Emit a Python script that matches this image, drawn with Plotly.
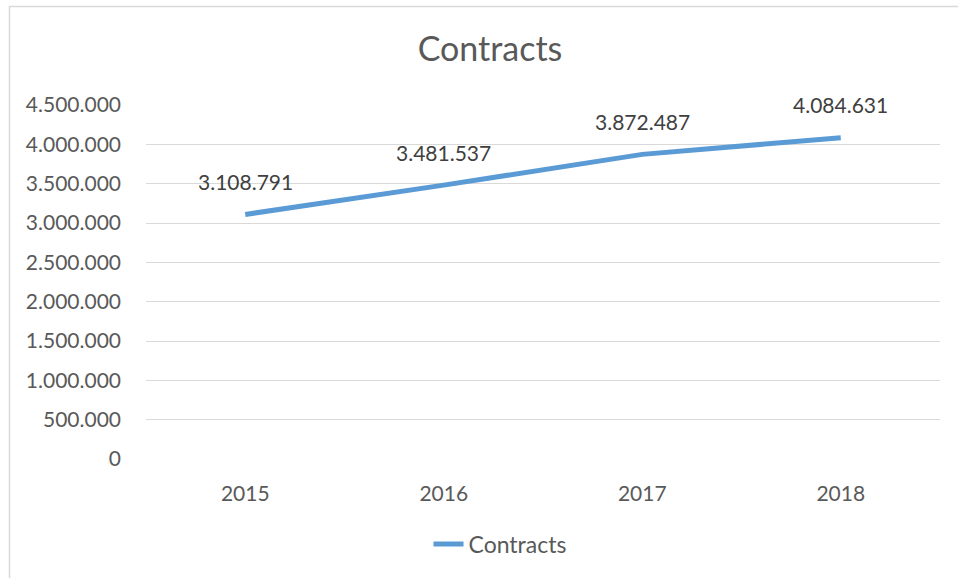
import plotly.graph_objects as go

# Yearly contract counts
years = ["2015", "2016", "2017", "2018"]
contracts = [3108791, 3481537, 3872487, 4084631]
series_name = "Contracts"
chart_title = "Contracts"
y_ticks = [0, 500000, 1000000, 1500000, 2000000, 2500000, 3000000, 3500000, 4000000, 4500000]

W, H = 958, 578
ML, MR, MT, MB = 146, 18, 105, 119
FONT = "Lato"
LINE_BLUE = "#5B9BD5"
TEXT_GRAY = "#595959"


def dotted(v):
    return f"{v:,}".replace(",", ".")


fig = go.Figure()
fig.add_trace(go.Scatter(
    x=years,
    y=contracts,
    mode="lines",
    name=series_name,
    line=dict(color=LINE_BLUE, width=5),
    hoverinfo="skip",
))

# Value labels above each point (category axis: position by index)
for i, v in enumerate(contracts):
    fig.add_annotation(
        x=i, y=v, xref="x", yref="y", text=dotted(v), showarrow=False,
        yshift=33, font=dict(family=FONT, size=21, color="#404040"),
    )

# Chart-area border (partially outside the visible page)
pw = W - ML - MR
ph = H - MT - MB
fig.add_shape(
    type="rect", xref="paper", yref="paper",
    x0=(9.5 - ML) / pw, x1=(W + 20 - ML) / pw,
    y0=(H - MB - (H + 20)) / ph, y1=(H - MB - 6.5) / ph,
    line=dict(color="#D9D9D9", width=1.5), fillcolor="rgba(0,0,0,0)", layer="below",
)

fig.update_layout(
    width=W, height=H,
    margin=dict(l=ML, r=MR, t=MT, b=MB),
    paper_bgcolor="white", plot_bgcolor="white",
    separators=",.",
    font=dict(family=FONT, color=TEXT_GRAY, size=21),
    title=dict(text=chart_title, x=490 / W, xanchor="center", y=1 - 49 / H, yanchor="middle",
               font=dict(family=FONT, size=34, color=TEXT_GRAY)),
    showlegend=True,
    legend=dict(orientation="h", x=(500 - ML) / pw, xanchor="center",
                y=(H - MB - 544) / ph, yanchor="middle",
                font=dict(family=FONT, size=23, color=TEXT_GRAY),
                itemwidth=30),
    xaxis=dict(
        type="category", range=[-0.5, 3.5],
        showgrid=False, showline=False, zeroline=False,
        ticks="", ticklabelstandoff=20,
        tickfont=dict(family=FONT, size=21, color=TEXT_GRAY),
    ),
    yaxis=dict(
        range=[0, 4500000], tickvals=y_ticks, tickformat=",d",
        showgrid=True, gridcolor="#D9D9D9", gridwidth=1.3,
        zeroline=False, showline=False,
        ticks="", ticklabelstandoff=24,
        tickfont=dict(family=FONT, size=21, color=TEXT_GRAY),
    ),
)

fig.write_html("out.html")
